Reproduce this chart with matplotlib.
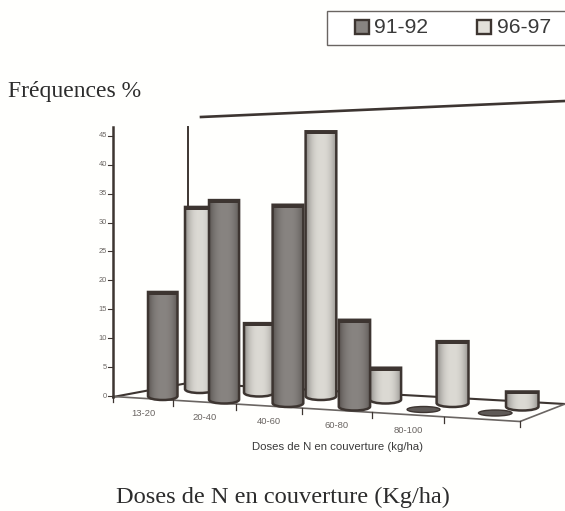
import numpy as np
import matplotlib
matplotlib.use("Agg")
import matplotlib.pyplot as plt
from matplotlib.patches import Ellipse, PathPatch, Rectangle
from matplotlib.path import Path

categories = ["13-20", "20-40", "40-60", "60-80", "80-100"]
y_ticks = [0, 5, 10, 15, 20, 25, 30, 35, 40, 45]
series_a = [18, 34.5, 34.3, 15, 0, 0]        # 91-92
series_b = [31.5, 12, 45.8, 5.5, 10.7, 2.6]  # 96-97
legend_labels = ["91-92", "96-97"]

INK = "#3d3531"
GREY = "#6a6562"
PX_PER_UNIT = 5.78


def to_y(value):
    return 396 - value * PX_PER_UNIT


def bar_base(i, depth):
    # fake perspective of the floor, depth 0 = front row, 1 = back row
    x = 148 + 37 * depth + (59.7 - 2 * depth) * i + 1.3 * i ** 2
    y = 396 - 7 * depth + 3.5 * i
    return x, y, 29.5 + 0.6 * i


def axis_tick(i):
    x = 113 + 58.4 * i + 1.57 * i ** 2
    return x, 396.5 + (x - 113) * 25 / 407


def draw_bar(ax, value, i, depth, edge_col, mid_col):
    x, y, w = bar_base(i, depth)
    top = y - value * PX_PER_UNIT
    z = 3 - depth + i * 0.01
    if value == 0:
        ax.add_patch(Ellipse((x + w / 2, y - 0.5), w + 1, 6, fc="#5f5a57", ec=INK, lw=1, zorder=z))
        return
    cx = x + w / 2
    k = 0.5523 * w / 2
    verts = [(x, top), (x + w, top), (x + w, y),
             (x + w, y + 2.5), (cx + k, y + 4), (cx, y + 4),
             (cx - k, y + 4), (x, y + 2.5), (x, y), (x, top)]
    codes = [Path.MOVETO, Path.LINETO, Path.LINETO,
             Path.CURVE4, Path.CURVE4, Path.CURVE4,
             Path.CURVE4, Path.CURVE4, Path.CURVE4, Path.CLOSEPOLY]
    outline = Path(verts, codes)
    edge = np.array(matplotlib.colors.to_rgb(edge_col))
    mid = np.array(matplotlib.colors.to_rgb(mid_col))
    t = 1 - np.abs(np.linspace(-1, 1, 64)) ** 2.5
    grad = edge[None, None, :] * (1 - t[None, :, None]) + mid[None, None, :] * t[None, :, None]
    im = ax.imshow(grad, extent=(x, x + w, y + 4, top), aspect="auto", zorder=z, interpolation="bilinear")
    im.set_clip_path(PathPatch(outline, transform=ax.transData))
    ax.add_patch(PathPatch(outline, fc="none", ec=INK, lw=1.8, zorder=z + 0.001))
    ax.add_patch(Rectangle((x, top), w, 3, fc=INK, ec="none", zorder=z + 0.002))


fig = plt.figure(figsize=(5.65, 5.11), dpi=100)
fig.patch.set_facecolor("#fffffd")
ax = fig.add_axes([0, 0, 1, 1])
ax.axis("off")

# walls and floor
ax.plot([113, 113], [127, 397], color=INK, lw=1.8, zorder=2)
ax.plot([188, 188], [127, 210], color=INK, lw=1.4, zorder=1)
ax.plot([201, 565], [117, 101], color=INK, lw=1.9, zorder=1)
ax.plot([113, 188, 565], [397, 383, 404], color=INK, lw=1.5, zorder=1)
ax.plot([113, 520, 565], [396.5, 421.5, 404], color=GREY, lw=1.2, zorder=1)

for v in y_ticks:
    ax.plot([108, 113], [to_y(v), to_y(v)], color=INK, lw=0.8)
    ax.text(107, to_y(v), str(v), fontsize=5.4, ha="right", va="center", color=GREY, family="Liberation Sans")

for i in range(len(series_a) + 1):
    tx, ty = axis_tick(i)
    ax.plot([tx, tx], [ty, ty + 6], color=INK, lw=0.9, zorder=1)

for i, lab in enumerate(categories):
    tx0, ty0 = axis_tick(i)
    tx1, ty1 = axis_tick(i + 1)
    ax.text((tx0 + tx1) / 2, (ty0 + ty1) / 2 + 15.5, lab, fontsize=6.8, ha="center",
            va="center", color=GREY, family="Liberation Sans")

for i, v in enumerate(series_b):
    draw_bar(ax, v, i, 1, "#8f8c88", "#dcdad4")
for i, v in enumerate(series_a):
    draw_bar(ax, v, i, 0, "#5a5552", "#888481")

ax.text(337, 447, "Doses de N en couverture (kg/ha)", fontsize=8.2, ha="center", va="center",
        color="#3a3a3a", family="Liberation Sans")

# legend
ax.add_patch(Rectangle((327, 11), 250, 34, fc="white", ec=GREY, lw=1, zorder=4))
for sx, tx, col, lab in zip([355, 477], [374, 497], ["#888481", "#e2e0da"], legend_labels):
    ax.add_patch(Rectangle((sx, 20), 14, 14, fc=col, ec=INK, lw=1.7, zorder=5))
    ax.text(tx, 27.5, lab, fontsize=15.2, ha="left", va="center", color="#3a3a3a", family="Liberation Sans", zorder=5)

ax.text(8, 92, "Fréquences %", fontsize=17, ha="left", va="center", color="#2c2c2c", family="Liberation Serif")
ax.text(283, 497, "Doses de N en couverture (Kg/ha)", fontsize=17.6, ha="center", va="center",
        color="#2c2c2c", family="Liberation Serif")

ax.set_xlim(0, 565)
ax.set_ylim(511, 0)
fig.savefig("out.png", dpi=100)
plt.close(fig)
